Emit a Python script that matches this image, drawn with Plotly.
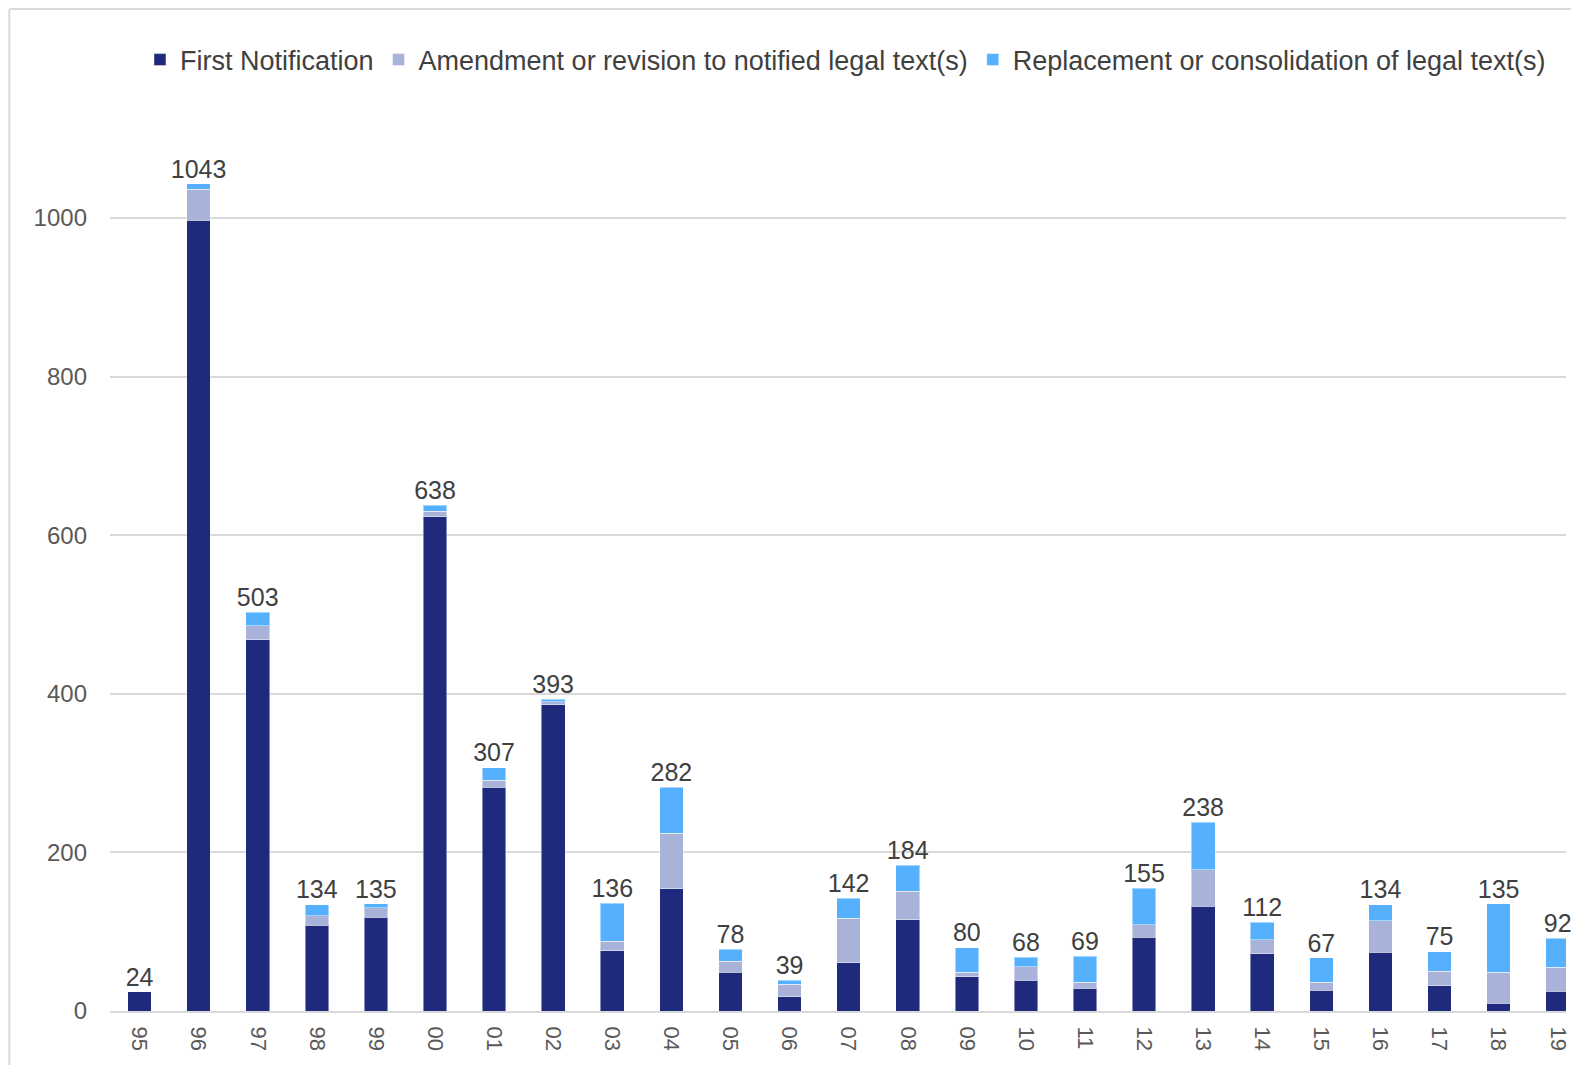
import plotly.graph_objects as go

years = ["95", "96", "97", "98", "99", "00", "01", "02", "03", "04", "05", "06", "07",
         "08", "09", "10", "11", "12", "13", "14", "15", "16", "17", "18", "19"]
first_notification = [24, 997, 468, 108, 118, 623, 282, 386, 76, 154, 49, 18, 61,
                      115, 43, 39, 29, 93, 132, 72, 26, 74, 32, 10, 25]
amendment = [0, 39, 18, 12, 12, 7, 9, 4, 12, 70, 14, 16, 56,
             36, 6, 17, 7, 16, 46, 18, 10, 40, 18, 39, 30]
replacement = [0, 7, 17, 14, 5, 8, 16, 3, 48, 58, 15, 5, 25,
               33, 31, 12, 33, 46, 60, 22, 31, 20, 25, 86, 37]
totals = [24, 1043, 503, 134, 135, 638, 307, 393, 136, 282, 78, 39, 142,
          184, 80, 68, 69, 155, 238, 112, 67, 134, 75, 135, 92]
y_ticks = [0, 200, 400, 600, 800, 1000]

FONT = "Liberation Sans, Arial, sans-serif"
GRID = "#d9d9d9"

fig = go.Figure()
series = [
    ("First Notification", first_notification, "#1f2a7c"),
    ("Amendment or revision to notified legal text(s)", amendment, "#a9b3d9"),
    ("Replacement or consolidation of legal text(s)", replacement, "#55b1fd"),
]
for name, vals, col in series:
    fig.add_trace(go.Bar(
        x=years, y=vals, name=name,
        marker=dict(color=col, line=dict(color="rgba(255,255,255,0.45)", width=1)),
        hoverinfo="skip",
    ))

fig.add_trace(go.Scatter(
    x=years, y=totals, mode="text", text=[str(t) for t in totals],
    textposition="top center", textfont=dict(family=FONT, size=25, color="#404040"),
    showlegend=False, cliponaxis=False, hoverinfo="skip",
))

W, H = 1563, 1057
L, R, T, B = 102, 0, 91, 54
pw, ph = W - L - R, H - T - B
bx = (1 - L) / pw
by_top = (H - B - 1) / ph
by_bot = (H - B - H) / ph

fig.update_layout(
    width=W, height=H,
    margin=dict(l=L, r=R, t=T, b=B, pad=0),
    barmode="stack", bargap=0.6,
    plot_bgcolor="white", paper_bgcolor="white",
    font=dict(family=FONT, size=22, color="#595959"),
    legend=dict(orientation="h", x=(840 - L) / pw, xanchor="center", y=(H - B - 52) / ph,
                yanchor="middle",
                font=dict(family=FONT, size=27, color="#404040"),
                itemwidth=30, traceorder="normal", bgcolor="rgba(0,0,0,0)"),
    xaxis=dict(type="category", range=[-0.5, 24.14], tickangle=90, showgrid=False,
               showline=True, linecolor=GRID, linewidth=2, ticks="", ticklabelstandoff=9,
               tickfont=dict(family=FONT, size=22, color="#595959")),
    yaxis=dict(range=[0, 1150], tickvals=y_ticks, showgrid=True, gridcolor=GRID, gridwidth=1.5,
               zeroline=False, showline=False, ticks="", ticklabelstandoff=22,
               tickfont=dict(family=FONT, size=24, color="#595959")),
    shapes=[
        dict(type="line", xref="paper", yref="paper", x0=bx, x1=bx, y0=by_bot, y1=by_top,
             line=dict(color=GRID, width=2)),
        dict(type="line", xref="paper", yref="paper", x0=bx, x1=1.05, y0=by_top, y1=by_top,
             line=dict(color=GRID, width=2)),
    ],
)

fig.write_html("out.html")
